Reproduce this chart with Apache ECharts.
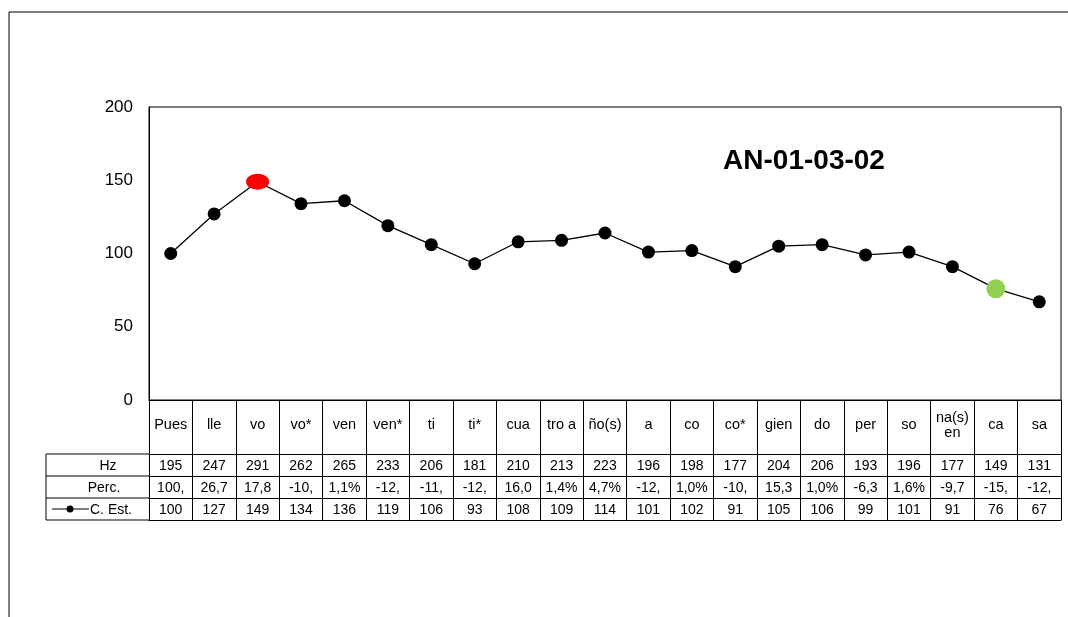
<!DOCTYPE html>
<html>
<head>
<meta charset="utf-8">
<script src="https://cdn.jsdelivr.net/npm/echarts@6/dist/echarts.min.js"></script>
<style>html,body{margin:0;padding:0;background:#fff;}#c{width:1068px;height:617px;}</style>
</head>
<body>
<div id="c"></div>
<script>
const categories = ['Pues','lle','vo','vo*','ven','ven*','ti','ti*','cua','tro a','ño(s)','a','co','co*','gien','do','per','so','na(s)\nen','ca','sa'];
const hzValues = [195,247,291,262,265,233,206,181,210,213,223,196,198,177,204,206,193,196,177,149,131];
const percLabels = ['100,','26,7','17,8','-10,','1,1%','-12,','-11,','-12,','16,0','1,4%','4,7%','-12,','1,0%','-10,','15,3','1,0%','-6,3','1,6%','-9,7','-15,','-12,'];
const cEstValues = [100,127,149,134,136,119,106,93,108,109,114,101,102,91,105,106,99,101,91,76,67];
const yTicks = [0,50,100,150,200];
const chartTitle = 'AN-01-03-02';
const rowHeaders = ['Hz','Perc.','C. Est.'];
const maxIndex = 2;   // highlighted peak (red)
const minIndex = 19;  // highlighted (green)

const FONT = '"Liberation Sans", Arial, sans-serif';
const G = {left:149, top:107, right:7, bottom:217};
const catRowH = 54;
const rowH = 22;

function rowAxis(data, offset, showLabels, tickLen, labelMargin, fs) {
  return {
    type:'category', data:data, position:'bottom', offset:offset, gridIndex:0,
    boundaryGap:true,
    axisLine:{show:true, lineStyle:{color:'#000', width:1}},
    axisTick:{show:tickLen>0, interval:0, length:tickLen, inside:false, lineStyle:{color:'#000', width:1}},
    axisLabel:{show:showLabels, interval:0, margin:labelMargin, verticalAlign:'middle',
      color:'#000', fontFamily:FONT, fontSize:fs||14, lineHeight:15},
    splitLine:{show:false}
  };
}

const chart = echarts.init(document.getElementById('c'), null, {renderer:'canvas'});
const tableTop = 400 + catRowH;
const tableBottom = tableTop + 3*rowH;
const hdrLeft = 46;
const option = {
  backgroundColor:'#fff',
  animation:false,
  title:{text:chartTitle, left:799, top:156, textAlign:'center', textVerticalAlign:'middle',
    textStyle:{fontFamily:FONT, fontWeight:'bold', fontSize:28, color:'#000'}},
  grid:{left:G.left, top:G.top, right:G.right, bottom:G.bottom, show:true, borderColor:'#000', borderWidth:1, containLabel:false},
  xAxis:[
    rowAxis(categories, 0, true, catRowH, 25, 14.5),
    rowAxis(hzValues.map(String), catRowH, true, rowH, rowH/2+1),
    rowAxis(percLabels, catRowH+rowH, true, rowH, rowH/2+1),
    rowAxis(cEstValues.map(String), catRowH+2*rowH, true, rowH, rowH/2+1),
    rowAxis(categories.map(()=>''), catRowH+3*rowH, false, 0, 0)
  ],
  yAxis:{type:'value', min:yTicks[0], max:yTicks[yTicks.length-1], interval:50,
    axisLine:{show:true, lineStyle:{color:'#000'}}, axisTick:{show:false},
    splitLine:{show:false},
    axisLabel:{color:'#000', fontFamily:FONT, fontSize:17, margin:16}},
  series:[{
    type:'line', xAxisIndex:0, yAxisIndex:0,
    data:cEstValues.map((v,i)=>{
      if(i===maxIndex) return {value:v, symbolSize:[23,16], itemStyle:{color:'#FF0000'}};
      if(i===minIndex) return {value:v, symbolSize:19, itemStyle:{color:'#92D050'}};
      return v;
    }),
    symbol:'circle', symbolSize:13,
    lineStyle:{color:'#000', width:1.3},
    itemStyle:{color:'#000'}
  }],
  graphic:[
    {type:'rect', shape:{x:9, y:12, width:1200, height:800}, style:{fill:'none', stroke:'#000', lineWidth:1}, silent:true, z:100},
    {type:'polyline', shape:{points:[[G.left,tableTop],[hdrLeft,tableTop],[hdrLeft,tableBottom],[G.left,tableBottom]]}, style:{fill:'none', stroke:'#000', lineWidth:1}, silent:true},
    {type:'line', shape:{x1:hdrLeft, y1:tableTop+rowH, x2:G.left, y2:tableTop+rowH}, style:{stroke:'#000', lineWidth:1}, silent:true},
    {type:'line', shape:{x1:hdrLeft, y1:tableTop+2*rowH, x2:G.left, y2:tableTop+2*rowH}, style:{stroke:'#000', lineWidth:1}, silent:true},
    {type:'text', x:108, y:tableTop+rowH/2+1, style:{text:rowHeaders[0], textAlign:'center', textVerticalAlign:'middle', fontFamily:FONT, fontSize:14, fill:'#000'}},
    {type:'text', x:104, y:tableTop+1.5*rowH+1, style:{text:rowHeaders[1], textAlign:'center', textVerticalAlign:'middle', fontFamily:FONT, fontSize:14, fill:'#000'}},
    {type:'line', shape:{x1:52, y1:tableTop+2.5*rowH, x2:89, y2:tableTop+2.5*rowH}, style:{stroke:'#000', lineWidth:1}, silent:true},
    {type:'circle', shape:{cx:70, cy:tableTop+2.5*rowH, r:3.5}, style:{fill:'#000'}, silent:true},
    {type:'text', x:90, y:tableTop+2.5*rowH+1, style:{text:rowHeaders[2], textAlign:'left', textVerticalAlign:'middle', fontFamily:FONT, fontSize:14, fill:'#000'}}
  ]
};
chart.setOption(option);
</script>
</body>
</html>
